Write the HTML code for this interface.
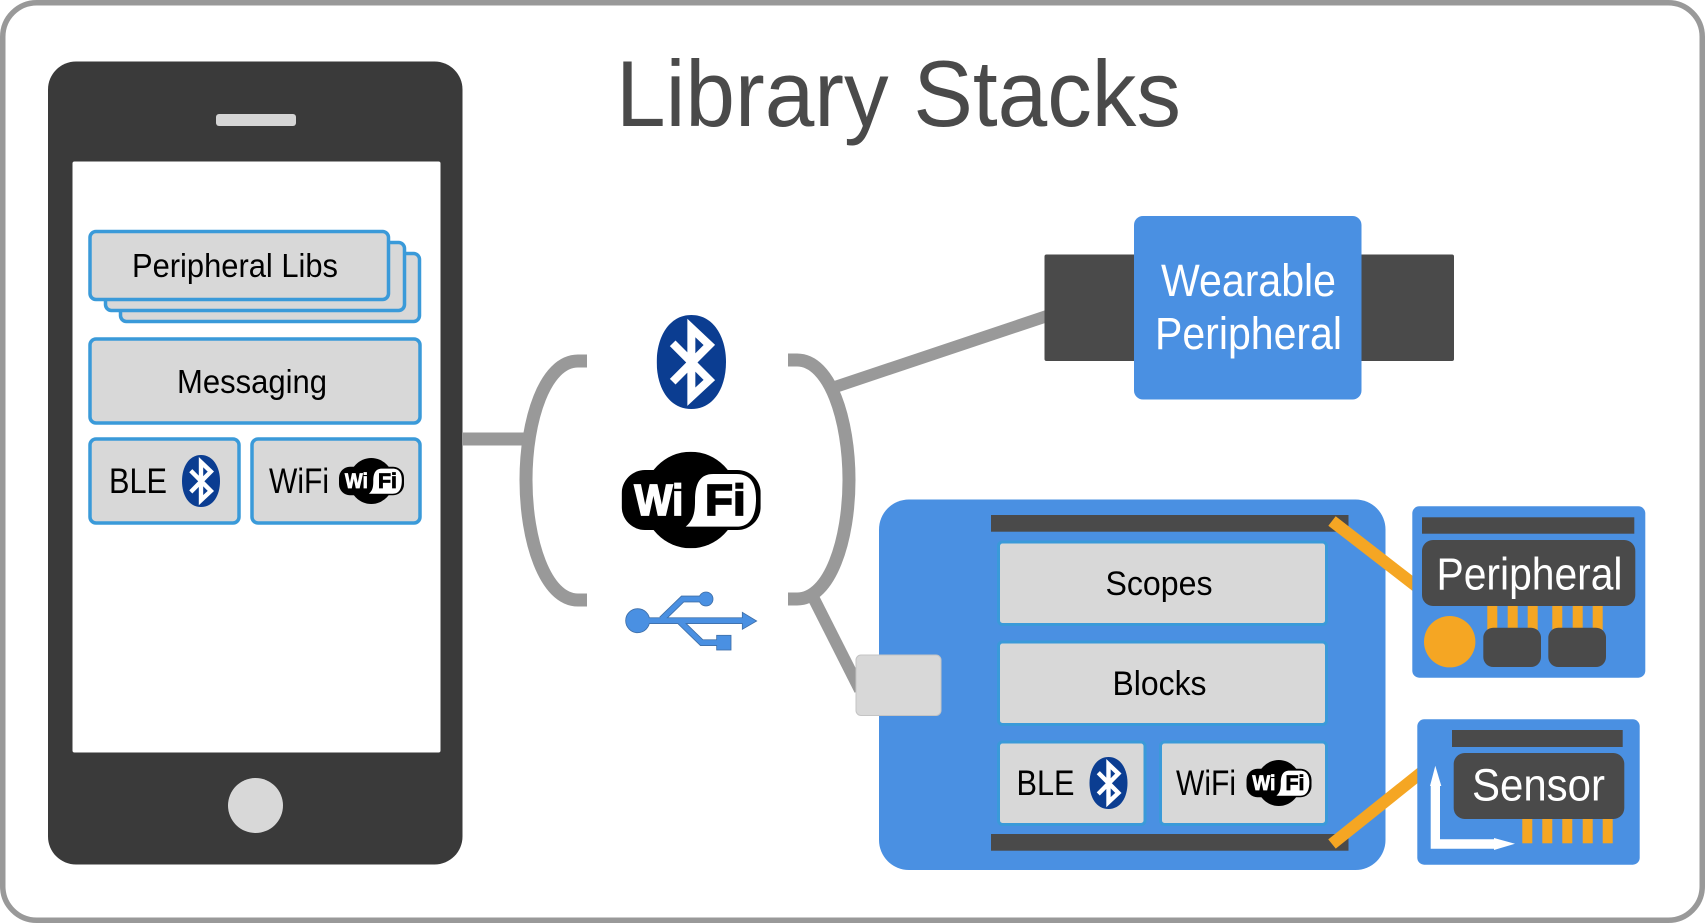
<!DOCTYPE html>
<html><head><meta charset="utf-8"><style>
html,body{margin:0;padding:0;background:#fff}
svg{display:block}
text{font-family:"Liberation Sans",sans-serif}
.b{fill:#d8d8d8;stroke:#3a9ad9;stroke-width:3.5}
.c{fill:#d8d8d8;stroke:#3a9ad9;stroke-width:3}
.w{font-weight:bold;font-size:132px;stroke-width:5}
</style></head><body>
<svg width="1705" height="923" viewBox="0 0 1705 923" xmlns="http://www.w3.org/2000/svg">
<rect x="2.75" y="2.75" width="1699.5" height="917.5" rx="34" fill="#fff" stroke="#999" stroke-width="5.5"/>

<!-- Phone -->
<rect x="48" y="61.5" width="414.5" height="803" rx="28" fill="#3a3a3a"/>
<rect x="216" y="114" width="80" height="12" rx="3" fill="#d5d5d5"/>
<rect x="72.5" y="161.5" width="368" height="591" rx="2" fill="#fff"/>
<circle cx="255.5" cy="805.5" r="27.5" fill="#d8d8d8"/>

<rect class="b" x="120.5" y="253.5" width="299" height="68" rx="6"/>
<rect class="b" x="105.5" y="242.5" width="299" height="68" rx="6"/>
<rect class="b" x="90" y="231.5" width="298.5" height="68" rx="6"/>
<text x="132" y="277" font-size="33" textLength="206" lengthAdjust="spacingAndGlyphs">Peripheral Libs</text>
<rect class="b" x="90" y="339" width="330" height="84" rx="6"/>
<text x="177" y="393" font-size="33" textLength="150" lengthAdjust="spacingAndGlyphs">Messaging</text>
<rect class="b" x="90" y="439" width="149" height="84" rx="6"/>
<text x="109" y="493" font-size="35" textLength="58" lengthAdjust="spacingAndGlyphs">BLE</text>
<rect class="b" x="252" y="439" width="168" height="84" rx="6"/>
<text x="269" y="493" font-size="35" textLength="60" lengthAdjust="spacingAndGlyphs">WiFi</text>

<!-- BT small phone -->
<svg x="182" y="455" width="38" height="52" viewBox="530 45 208 282" preserveAspectRatio="none"><path d="M634 45C700 45 738 110 738 186C738 265 700 327 634 327C568 327 530 265 530 186C530 110 568 45 634 45Z" fill="#0b3d91"/><path d="M578 130L688 240L634 290V84L688 135L578 245" fill="none" stroke="#fff" stroke-width="24"/></svg>
<!-- WiFi small phone -->
<svg x="339" y="458" width="65" height="46" viewBox="425 455 417 290" preserveAspectRatio="none"><ellipse cx="632" cy="600" rx="142" ry="145"/><rect x="425" y="510" width="417" height="180" rx="70"/><path d="M700 522H770C810 522 828 550 828 595C828 650 810 680 770 680H617C640 660 645 640 645 600C645 550 660 522 700 522Z" fill="#fff"/><text class="w" x="463" y="645" fill="#fff" stroke="#fff" textLength="147" lengthAdjust="spacingAndGlyphs">Wi</text><text class="w" x="675" y="645" fill="#000" stroke="#000" textLength="122" lengthAdjust="spacingAndGlyphs">Fi</text></svg>

<!-- Connectors -->
<line x1="463" y1="439" x2="530" y2="439" stroke="#999" stroke-width="13"/>
<line x1="832" y1="388" x2="1050" y2="315" stroke="#999" stroke-width="12"/>
<line x1="813" y1="597" x2="860" y2="690" stroke="#999" stroke-width="12"/>
<path d="M587 361H578C545 361 526 420 526 480C526 540 545 600 578 600H587" fill="none" stroke="#999" stroke-width="13"/>
<path d="M788 360H797C830 360 849 420 849 480C849 540 830 599 797 599H788" fill="none" stroke="#999" stroke-width="13"/>

<!-- BT large -->
<svg x="656.7" y="315" width="69.3" height="94" viewBox="530 45 208 282" preserveAspectRatio="none"><path d="M634 45C700 45 738 110 738 186C738 265 700 327 634 327C568 327 530 265 530 186C530 110 568 45 634 45Z" fill="#0b3d91"/><path d="M578 130L688 240L634 290V84L688 135L578 245" fill="none" stroke="#fff" stroke-width="24"/></svg>
<!-- WiFi large -->
<svg x="621.7" y="451.7" width="139" height="96.6" viewBox="425 455 417 290" preserveAspectRatio="none"><ellipse cx="632" cy="600" rx="142" ry="145"/><rect x="425" y="510" width="417" height="180" rx="70"/><path d="M700 522H770C810 522 828 550 828 595C828 650 810 680 770 680H617C640 660 645 640 645 600C645 550 660 522 700 522Z" fill="#fff"/><text class="w" x="463" y="645" fill="#fff" stroke="#fff" textLength="147" lengthAdjust="spacingAndGlyphs">Wi</text><text class="w" x="675" y="645" fill="#000" stroke="#000" textLength="122" lengthAdjust="spacingAndGlyphs">Fi</text></svg>

<!-- USB -->
<g transform="translate(480 300) scale(.33333)">
<g fill="none" stroke="#3f6fa8" stroke-width="20"><path d="M473 962H790"/><path d="M545 958L608 897H670"/><path d="M600 965L665 1028H715"/></g>
<g fill="#4a90e2" stroke="#3f6fa8" stroke-width="2.5"><circle cx="473" cy="962" r="36"/><circle cx="678" cy="897" r="21"/><rect x="710" y="1006" width="43" height="44"/><path d="M787 937L830 963L787 988Z"/></g>
<g fill="none" stroke="#4a90e2" stroke-width="15"><path d="M473 962H790"/><path d="M545 958L608 897H670"/><path d="M600 965L665 1028H715"/></g>
</g>

<!-- Title -->
<text x="616" y="126" font-size="94" fill="#4a4a4a" textLength="565" lengthAdjust="spacingAndGlyphs">Library Stacks</text>

<!-- Wearable -->
<rect x="1044.5" y="254.5" width="409.5" height="106.5" rx="2" fill="#4a4a4a"/>
<rect x="1134" y="216" width="227.5" height="183.5" rx="9" fill="#4a90e2"/>
<text x="1161" y="296" font-size="45" fill="#fff" textLength="175" lengthAdjust="spacingAndGlyphs">Wearable</text>
<text x="1155" y="349" font-size="45" fill="#fff" textLength="187" lengthAdjust="spacingAndGlyphs">Peripheral</text>

<!-- Main board -->
<rect x="879" y="499.5" width="506.5" height="370.5" rx="30" fill="#4a90e2"/>
<rect x="991" y="515" width="357.5" height="16.7" fill="#4a4a4a"/>
<rect x="991" y="834" width="357.5" height="16.7" fill="#4a4a4a"/>
<rect class="c" x="998.5" y="542" width="328" height="82.5" rx="4"/>
<text x="1105.5" y="595" font-size="34" textLength="107" lengthAdjust="spacingAndGlyphs">Scopes</text>
<rect class="c" x="998.5" y="642" width="328" height="82.5" rx="4"/>
<text x="1112.5" y="695" font-size="34" textLength="94" lengthAdjust="spacingAndGlyphs">Blocks</text>
<rect class="c" x="998.5" y="742" width="146.5" height="82.5" rx="4"/>
<text x="1016.5" y="795" font-size="35" textLength="58" lengthAdjust="spacingAndGlyphs">BLE</text>
<rect class="c" x="1160.5" y="742" width="166" height="82.5" rx="4"/>
<text x="1176" y="795" font-size="35" textLength="60" lengthAdjust="spacingAndGlyphs">WiFi</text>
<svg x="1089.5" y="757" width="38" height="52" viewBox="530 45 208 282" preserveAspectRatio="none"><path d="M634 45C700 45 738 110 738 186C738 265 700 327 634 327C568 327 530 265 530 186C530 110 568 45 634 45Z" fill="#0b3d91"/><path d="M578 130L688 240L634 290V84L688 135L578 245" fill="none" stroke="#fff" stroke-width="24"/></svg>
<svg x="1246.5" y="760" width="65" height="46" viewBox="425 455 417 290" preserveAspectRatio="none"><ellipse cx="632" cy="600" rx="142" ry="145"/><rect x="425" y="510" width="417" height="180" rx="70"/><path d="M700 522H770C810 522 828 550 828 595C828 650 810 680 770 680H617C640 660 645 640 645 600C645 550 660 522 700 522Z" fill="#fff"/><text class="w" x="463" y="645" fill="#fff" stroke="#fff" textLength="147" lengthAdjust="spacingAndGlyphs">Wi</text><text class="w" x="675" y="645" fill="#000" stroke="#000" textLength="122" lengthAdjust="spacingAndGlyphs">Fi</text></svg>

<!-- USB connector block -->
<rect x="856" y="655" width="85" height="60.5" rx="5" fill="#d8d8d8" stroke="#c4c4c4" stroke-width="1"/>

<!-- Orange wires -->
<line x1="1332" y1="521" x2="1416" y2="586" stroke="#f5a623" stroke-width="12"/>
<line x1="1332" y1="844" x2="1422" y2="772" stroke="#f5a623" stroke-width="12"/>

<!-- Peripheral board -->
<rect x="1412.3" y="506.3" width="233" height="171.4" rx="7" fill="#4a90e2"/>
<rect x="1422" y="517.3" width="212.3" height="16.4" fill="#4a4a4a"/>
<g fill="#f5a623"><rect x="1487.3" y="606" width="10" height="24"/><rect x="1507.7" y="606" width="10" height="24"/><rect x="1527.7" y="606" width="10" height="24"/><rect x="1552.3" y="606" width="10" height="24"/><rect x="1572.7" y="606" width="10" height="24"/><rect x="1592.7" y="606" width="10" height="24"/><circle cx="1449.7" cy="641.7" r="25.7"/></g>
<rect x="1422" y="540" width="213.3" height="66" rx="11" fill="#4a4a4a"/>
<text x="1436.5" y="589.3" font-size="45" fill="#fff" textLength="186" lengthAdjust="spacingAndGlyphs">Peripheral</text>
<rect x="1483.3" y="627.7" width="57.7" height="39.3" rx="10" fill="#4a4a4a"/>
<rect x="1548.3" y="627.7" width="57.7" height="39.3" rx="10" fill="#4a4a4a"/>

<!-- Sensor board -->
<rect x="1417.3" y="719.3" width="222.4" height="145.4" rx="7" fill="#4a90e2"/>
<rect x="1452" y="730" width="170.7" height="17" fill="#4a4a4a"/>
<g fill="#f5a623"><rect x="1522.3" y="819" width="10" height="24.3"/><rect x="1542.3" y="819" width="10" height="24.3"/><rect x="1562.3" y="819" width="10" height="24.3"/><rect x="1582.7" y="819" width="10" height="24.3"/><rect x="1602.7" y="819" width="10" height="24.3"/></g>
<rect x="1453.7" y="753" width="170.6" height="66" rx="11" fill="#4a4a4a"/>
<text x="1472" y="800.7" font-size="45" fill="#fff" textLength="133" lengthAdjust="spacingAndGlyphs">Sensor</text>
<path d="M1435.3 765.7L1441.3 786H1440V839.3H1494V838L1515 843.7L1494 850V848.7H1430.7V786H1430Z" fill="#fff"/>
</svg>
</body></html>
